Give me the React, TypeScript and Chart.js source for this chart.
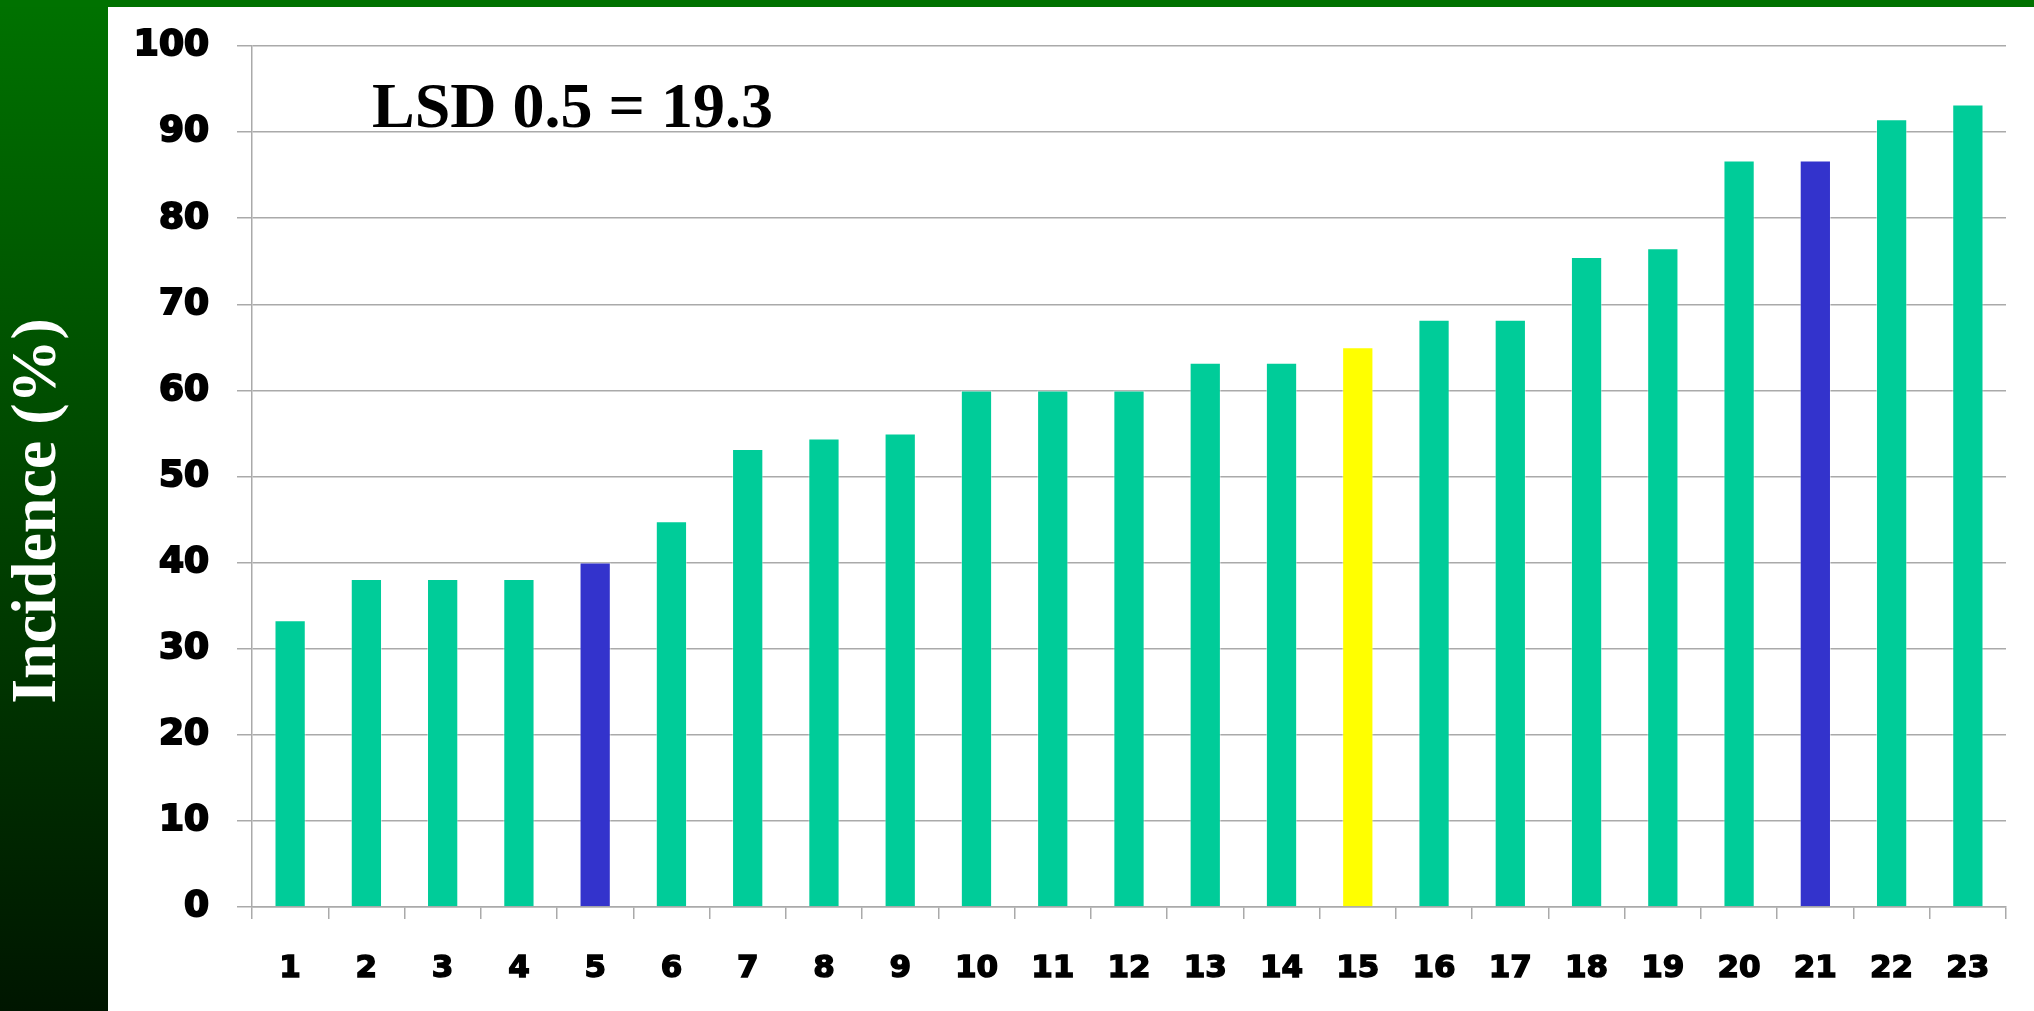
import React, { useEffect, useRef } from "react";
import { Chart, registerables } from "chart.js";

Chart.register(...registerables);

const categories = ["1","2","3","4","5","6","7","8","9","10","11","12","13","14","15","16","17","18","19","20","21","22","23"];
const incidence = [33.3, 38.1, 38.1, 38.1, 40, 44.8, 53.2, 54.4, 55, 60, 60, 60, 63.2, 63.2, 65, 68.2, 68.2, 75.5, 76.5, 86.7, 86.7, 91.5, 93.2];
const highlightBlue = ["5", "21"];
const highlightYellow = ["15"];
const yTicks = [0, 10, 20, 30, 40, 50, 60, 70, 80, 90, 100];
const yTitle = "Incidence (%)";
const lsdText = "LSD 0.5 = 19.3";

const W = 2034;
const H = 1011;

const barColors = categories.map((c) =>
  highlightBlue.includes(c) ? "#3333CC" : highlightYellow.includes(c) ? "#FFFF00" : "#00CC99"
);

const decorPlugin = {
  id: "decor",
  beforeDraw(chart: any) {
    const ctx = chart.ctx;
    ctx.save();
    ctx.fillStyle = "#ffffff";
    ctx.fillRect(0, 0, W, H);
    const g = ctx.createLinearGradient(0, 0, 0, H);
    g.addColorStop(0, "rgb(0,114,0)");
    g.addColorStop(1, "rgb(0,22,0)");
    ctx.fillStyle = g;
    ctx.fillRect(0, 0, 108, H);
    ctx.fillStyle = "rgb(0,114,0)";
    ctx.fillRect(0, 0, W, 7);
    ctx.restore();
  },
  afterDraw(chart: any) {
    const ctx = chart.ctx;
    ctx.save();
    ctx.translate(55, 511);
    ctx.rotate(-Math.PI / 2);
    ctx.fillStyle = "#ffffff";
    ctx.font = "bold 64px 'Liberation Serif', 'Times New Roman', serif";
    ctx.textAlign = "center";
    ctx.textBaseline = "alphabetic";
    ctx.fillText(yTitle, 0, 0);
    ctx.restore();

    ctx.save();
    ctx.fillStyle = "#000000";
    ctx.font = "bold 64px 'Liberation Serif', 'Times New Roman', serif";
    ctx.textAlign = "left";
    ctx.textBaseline = "alphabetic";
    ctx.fillText(lsdText, chart.chartArea.left + 120, 127);
    ctx.restore();
  },
};

export default function App() {
  const ref = useRef<HTMLCanvasElement | null>(null);

  useEffect(() => {
    if (!ref.current) return;
    const chart = new Chart(ref.current, {
      type: "bar",
      data: {
        labels: categories,
        datasets: [
          {
            data: incidence,
            backgroundColor: barColors,
            borderColor: "rgba(255,255,255,0.45)",
            borderWidth: 1,
            borderSkipped: "bottom",
            barPercentage: 0.41,
            categoryPercentage: 1,
          },
        ],
      },
      options: {
        animation: false,
        responsive: false,
        devicePixelRatio: 1,
        layout: { padding: { left: 0, top: 46, right: 28, bottom: 0 } },
        plugins: {
          legend: { display: false },
          tooltip: { enabled: false },
          title: { display: false },
        },
        scales: {
          x: {
            offset: true,
            grid: {
              offset: true,
              drawOnChartArea: false,
              drawTicks: true,
              tickLength: 12,
              color: "#aaaaaa",
              lineWidth: 1.5,
            },
            border: { display: true, color: "#aaaaaa", width: 1.5 },
            ticks: {
              autoSkip: false,
              maxRotation: 0,
              minRotation: 0,
              padding: 31,
              color: "#000000",
              textStrokeColor: "#000000",
              textStrokeWidth: 1.5,
              font: { family: "'DejaVu Sans', sans-serif", weight: "bold", size: 31 },
            },
            afterFit(scale: any) {
              scale.height = 104;
              scale.paddingLeft = 0;
              scale.paddingRight = 0;
            },
          },
          y: {
            min: 0,
            max: 100,
            afterBuildTicks(scale: any) {
              scale.ticks = yTicks.map((v) => ({ value: v }));
            },
            grid: {
              drawOnChartArea: true,
              drawTicks: true,
              tickLength: 15,
              color: "#aaaaaa",
              lineWidth: 1.5,
            },
            border: { display: true, color: "#aaaaaa", width: 1.5 },
            ticks: {
              padding: 28,
              color: "#000000",
              textStrokeColor: "#000000",
              textStrokeWidth: 2,
              font: { family: "'DejaVu Sans', sans-serif", weight: "bold", size: 36 },
            },
            afterFit(scale: any) {
              scale.width = 252;
              scale.paddingTop = 0;
              scale.paddingBottom = 0;
            },
          },
        },
      },
      plugins: [decorPlugin],
    });
    return () => chart.destroy();
  }, []);

  return (
    <div style={{ position: "fixed", left: 0, top: 0, width: W, height: H, background: "#fff" }}>
      <canvas ref={ref} width={W} height={H} style={{ display: "block", width: W, height: H }} />
    </div>
  );
}
